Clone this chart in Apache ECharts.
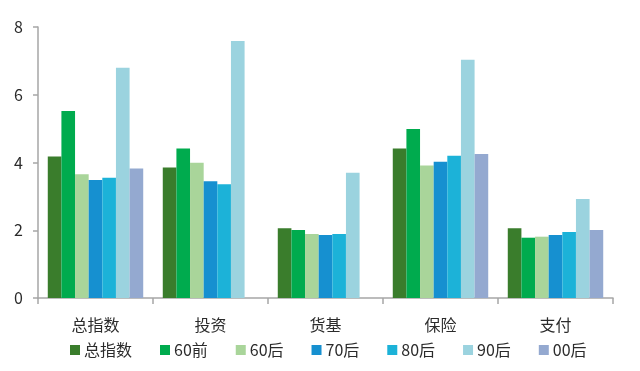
<!DOCTYPE html>
<html>
<head>
<meta charset="utf-8">
<script src="https://cdn.jsdelivr.net/npm/echarts@6/dist/echarts.min.js"></script>
<style>
html,body{margin:0;padding:0;background:#fff;}
#main{width:640px;height:371px;}
</style>
</head>
<body>
<div id="main"></div>
<script>
const categories = ['总指数', '投资', '货基', '保险', '支付'];
const seriesNames = ['总指数', '60前', '60后', '70后', '80后', '90后', '00后'];
const sZong = [4.18, 3.85, 2.06, 4.41, 2.06];
const s60q = [5.52, 4.41, 2.01, 4.99, 1.78];
const s60h = [3.65, 3.99, 1.89, 3.91, 1.81];
const s70h = [3.48, 3.45, 1.86, 4.02, 1.86];
const s80h = [3.55, 3.36, 1.89, 4.20, 1.95];
const s90h = [6.80, 7.59, 3.70, 7.03, 2.92];
const s00h = [3.82, null, null, 4.25, 2.01];
const yTicks = [0, 2, 4, 6, 8];
const colors = ['#3A7D2C', '#00AB4E', '#A9D59A', '#1690D0', '#1CB2D8', '#9BD3DF', '#94A9D0'];

const allData = [sZong, s60q, s60h, s70h, s80h, s90h, s00h];
const font = '"Noto Sans CJK SC", "Noto Sans", sans-serif';

const chart = echarts.init(document.getElementById('main'), null, {renderer: 'canvas'});
chart.setOption({
  animation: false,
  color: colors,
  grid: {left: 38, right: 27, top: 27, bottom: 73, containLabel: false},
  legend: {
    data: seriesNames,
    left: 70, top: 342,
    itemWidth: 10, itemHeight: 10, itemGap: 28,
    icon: 'rect',
    textStyle: {fontFamily: font, fontSize: 16, color: '#2b2b2b', padding: [0, 0, 0, -1]},
    padding: 0
  },
  xAxis: {
    type: 'category',
    data: categories,
    axisLine: {lineStyle: {color: '#A6A6A6', width: 1.5}},
    axisTick: {show: true, length: 6, lineStyle: {color: '#A6A6A6', width: 1.5}},
    axisLabel: {fontFamily: font, fontSize: 16, color: '#2b2b2b', margin: 19}
  },
  yAxis: {
    type: 'value',
    min: yTicks[0], max: yTicks[yTicks.length - 1], interval: 2,
    axisLine: {show: true, lineStyle: {color: '#A6A6A6', width: 1.5}},
    axisTick: {show: true, length: 5, lineStyle: {color: '#A6A6A6', width: 1.5}},
    splitLine: {show: false},
    axisLabel: {fontFamily: font, fontSize: 16, color: '#2b2b2b', margin: 15}
  },
  series: seriesNames.map((name, i) => ({
    name: name,
    type: 'bar',
    data: allData[i],
    barGap: '0%',
    barCategoryGap: '17%',
    itemStyle: {color: colors[i]}
  }))
});
</script>
</body>
</html>
